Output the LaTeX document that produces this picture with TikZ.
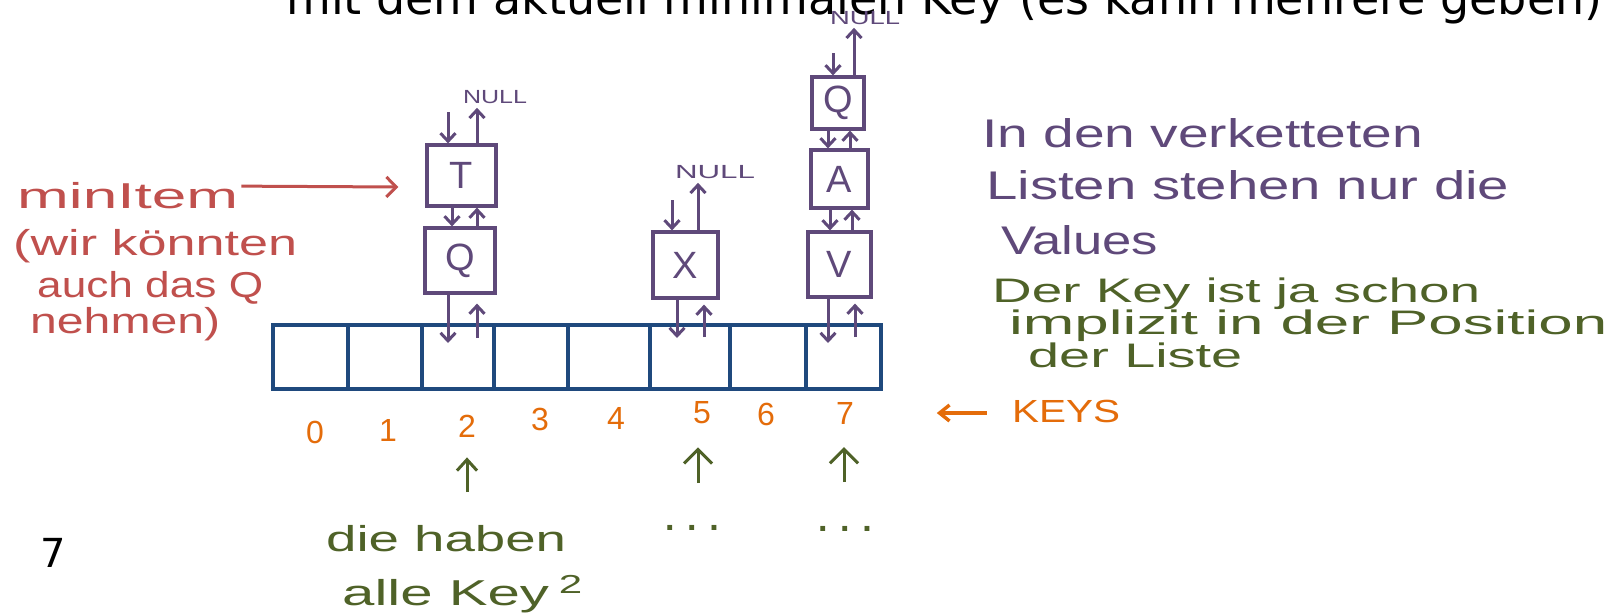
\documentclass[tikz,border=0pt]{standalone}
\usepackage{fontspec}
\usepackage{graphicx}
\setmainfont{Liberation Sans}
\newfontfamily\slidefont{DejaVu Sans}
\usetikzlibrary{arrows.meta}
\definecolor{penpurple}{HTML}{5F497A}
\definecolor{penred}{HTML}{C0504D}
\definecolor{penblue}{HTML}{1F497D}
\definecolor{penorange}{HTML}{E46C0A}
\definecolor{pengreen}{HTML}{4F6228}
\newcommand\hwfit[2]{\resizebox{#1}{\height}{#2}}
\begin{document}
\begin{tikzpicture}[x=1pt,y=-1pt,
  listbox/.style={draw=penpurple,line width=3.2pt,inner sep=0,text=penpurple,font=\fontsize{38}{38}\selectfont},
  cell/.style={draw=penblue,line width=3.6pt,minimum height=64pt,inner sep=0},
  ptr/.style={draw=penpurple,line width=3pt,-{Straight Barb[length=8pt,width=15pt,line width=3pt]}},
  nulltxt/.style={text=penpurple,inner sep=0,anchor=center,font=\fontsize{19}{19}\selectfont},
  hwpurple/.style={text=penpurple,inner sep=0,anchor=base west,font=\fontsize{40}{40}\selectfont},
  hwgreen/.style={text=pengreen,inner sep=0,anchor=base west,font=\fontsize{34}{34}\selectfont},
  hwred/.style={text=penred,inner sep=0,anchor=base west,font=\fontsize{36}{36}\selectfont},
  keynum/.style={text=penorange,inner sep=0,font=\fontsize{32}{32}\selectfont},
  garrow/.style={draw=pengreen,line width=3pt,-{Straight Barb[length=14pt,width=28pt,line width=3pt]}},
  garrowsmall/.style={draw=pengreen,line width=3pt,-{Straight Barb[length=11pt,width=20pt,line width=3pt]}},
  redarrow/.style={draw=penred,line width=3pt,-{Straight Barb[length=10pt,width=20pt,line width=3pt]}},
  orarrow/.style={draw=penorange,line width=3.4pt,-{Straight Barb[length=10pt,width=16pt,line width=3.4pt]}},
  dots/.style={text=pengreen,anchor=base west,inner sep=0,font=\bfseries\fontsize{34}{34}\selectfont},
]
\useasboundingbox[fill=white] (0,0) rectangle (1614,613);

% slide title and number
\node[anchor=base west,inner sep=0,font=\slidefont\fontsize{46}{46}\selectfont] (title) at (286,14) {mit dem aktuell minimalen Key (es kann mehrere geben)};
\node[anchor=base west,inner sep=0,font=\slidefont\fontsize{40}{40}\selectfont] (slideno) at (40,567) {7};

% array cells
\foreach \i/\cx/\w in {0/310.5/75,1/385/74,2/458/72,3/531/74,4/609/82,5/690/80,6/768/76,7/843.5/75}
  \node[cell,minimum width=\w pt] (c\i) at (\cx,357) {};

% list nodes
\node[listbox,minimum width=69pt,minimum height=61pt] (T) at (461.5,175.5) {T};
\node[listbox,minimum width=70pt,minimum height=65pt] (Q1) at (460,260.5) {Q};
\node[listbox,minimum width=65pt,minimum height=66pt] (X) at (685.5,265) {X};
\node[listbox,minimum width=63pt,minimum height=65pt] (V) at (839.5,264.5) {V};
\node[listbox,minimum width=57pt,minimum height=58pt] (A) at (839.5,179) {A};
\node[listbox,minimum width=52pt,minimum height=52pt] (Q2) at (838,103) {Q};

% NULL labels
\node[nulltxt] (n1) at (495,97) {\hwfit{64pt}{NULL}};
\node[nulltxt] (n2) at (715,172) {\hwfit{80pt}{NULL}};
\node[nulltxt] (n3) at (865,18) {\hwfit{70pt}{NULL}};

% free ends
\coordinate (tin) at (448,112);
\coordinate (xin) at (672,200);
\coordinate (qin) at (833,53);

% list 2
\draw[ptr] (tin) -- (tin |- T.north);
\draw[ptr] ([xshift=15.5pt]T.north) -- ([xshift=15.5pt,yshift=-4pt]T.north |- n1.south);
\draw[ptr] ([xshift=-9.5pt]T.south) -- ([xshift=-8pt]Q1.north);
\draw[ptr] ([xshift=17pt]Q1.north) -- ([xshift=15.5pt]T.south);
\draw[ptr] ([xshift=-12pt]Q1.south) -- ([xshift=-10pt,yshift=14pt]c2.center);
\draw[ptr] ([xshift=19pt,yshift=19pt]c2.center) -- ([xshift=17pt,yshift=-9pt]Q1.south);

% list 5
\draw[ptr] (xin) -- (xin |- X.north);
\draw[ptr] ([xshift=12.5pt]X.north) -- ([xshift=12.5pt,yshift=-4pt]X.north |- n2.south);
\draw[ptr] ([xshift=-8.5pt]X.south) -- ([xshift=-13pt,yshift=19pt]c5.center);
\draw[ptr] ([xshift=14pt,yshift=20pt]c5.center) -- ([xshift=18.5pt,yshift=-5pt]X.south);

% list 7
\draw[ptr] (qin) -- (qin |- Q2.north);
\draw[ptr] ([xshift=16pt]Q2.north) -- ([xshift=16pt,yshift=-3pt]Q2.north |- n3.south);
\draw[ptr] ([xshift=-10pt]Q2.south) -- ([xshift=-11.5pt]A.north);
\draw[ptr] ([xshift=10.5pt]A.north) -- ([xshift=12pt]Q2.south);
\draw[ptr] ([xshift=-9.5pt]A.south) -- ([xshift=-9.5pt]V.north);
\draw[ptr] ([xshift=12.5pt]V.north) -- ([xshift=12.5pt]A.south);
\draw[ptr] ([xshift=-11.5pt]V.south) -- ([xshift=-15.5pt,yshift=14pt]c7.center);
\draw[ptr] ([xshift=11.5pt,yshift=20pt]c7.center) -- ([xshift=15.5pt,yshift=-5pt]V.south);

% red annotation
\node[hwred] (mi) at (17,208) {\hwfit{221pt}{minItem}};
\node[hwred] (r1) at (13,255) {\hwfit{284pt}{(wir könnten}};
\node[hwred] (r2) at (37,297) {\hwfit{226pt}{auch das Q}};
\node[hwred] (r3) at (30,333) {\hwfit{190pt}{nehmen)}};
\draw[redarrow] ([xshift=3pt,yshift=9pt]mi.east) -- ([xshift=-27pt,yshift=-11.5pt]T.west);

% purple / green notes
\node[hwpurple] (p1) at (982,147) {\hwfit{441pt}{In den verketteten}};
\node[hwpurple] (p2) at (986,199) {\hwfit{523pt}{Listen stehen nur die}};
\node[hwpurple] (p3) at (1001,254) {\hwfit{157pt}{Values}};
\node[hwgreen] (g1) at (992,302) {\hwfit{488pt}{Der Key ist ja schon}};
\node[hwgreen] (g2) at (1009,334) {\hwfit{598pt}{implizit in der Position}};
\node[hwgreen] (g3) at (1028,367) {\hwfit{214pt}{der Liste}};

% keys
\node[keynum] (k0) at (315,432) {0};
\node[keynum] (k1) at (388,430) {1};
\node[keynum] (k2) at (467,426) {2};
\node[keynum] (k3) at (540,419) {3};
\node[keynum] (k4) at (616,418) {4};
\node[keynum] (k5) at (702,413) {5};
\node[keynum] (k6) at (766,414) {6};
\node[keynum] (k7) at (845,413) {7};
\node[keynum] (keys) at (1066,411) {\hwfit{108pt}{KEYS}};
\draw[orarrow] ([xshift=-25pt,yshift=-2pt]keys.west) -- ([xshift=-75pt,yshift=-2pt]keys.west);

% bottom green notes
\coordinate (a2) at (467,492);
\coordinate (a5) at (698,483);
\coordinate (a7) at (844,482);
\draw[garrowsmall,shorten >=20pt] (a2) -- (a2 |- k2.south);
\draw[garrow,shorten >=23pt] (a5) -- (a5 |- k5.south);
\draw[garrow,shorten >=23pt] (a7) -- (a7 |- k7.south);
\node[hwgreen,font=\fontsize{36}{36}\selectfont] (dh) at (326,551) {\hwfit{240pt}{die haben}};
\node[hwgreen,font=\fontsize{36}{36}\selectfont] (ak) at (342,605) {\hwfit{240pt}{alle Key\,\raisebox{12pt}{\fontsize{26}{26}\selectfont 2}}};
\node[dots] (d5) at (665,530) {. . .};
\node[dots] (d7) at (818,531) {. . .};
\end{tikzpicture}
\end{document}
